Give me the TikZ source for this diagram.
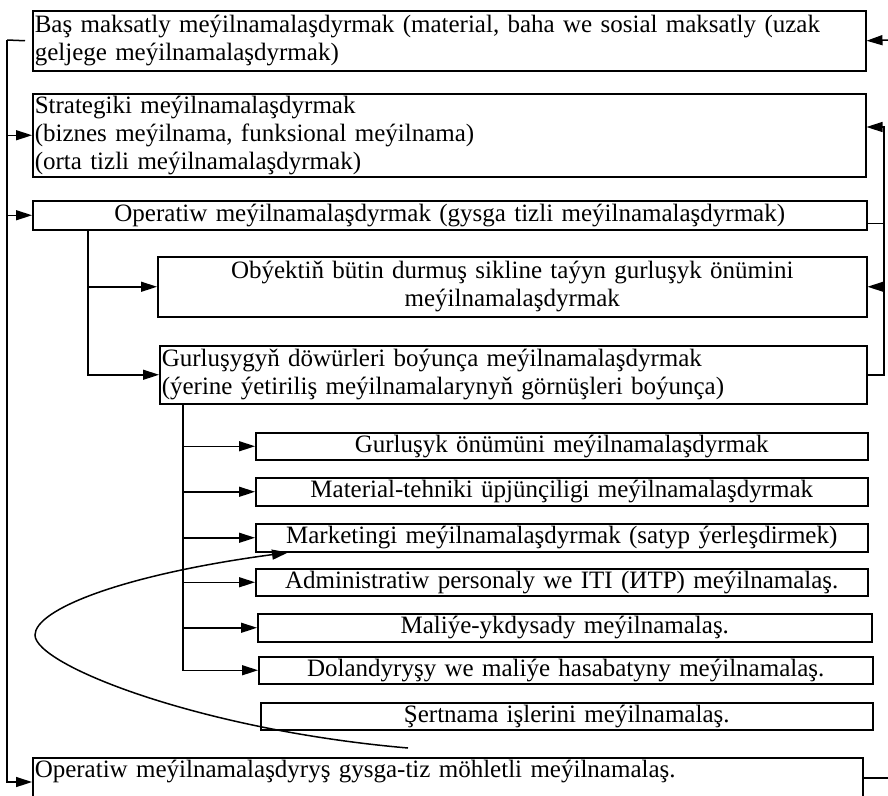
\documentclass[tikz,border=0pt]{standalone}
\usepackage{fontspec}
\setmainfont{Liberation Serif}
\usetikzlibrary{arrows.meta}

\begin{document}
\begin{tikzpicture}[x=1pt, y=1pt,
    box/.style={draw, line width=1.5pt, anchor=north west, inner sep=2pt, font=\fontsize{25}{28}\selectfont},
    link/.style={line width=1.5pt},
    arr/.style={line width=1.5pt, -{Triangle[length=16pt,width=10pt]}}
]
    \useasboundingbox (0,0) rectangle (888,-795);

    % Upper levels of planning
    \node[box, text width=829pt, align=left, minimum height=60pt] (goal) at (32,-10)
        {Baş maksatly meýilnamalaşdyrmak (material, baha we sosial maksatly (uzak\\geljege meýilnamalaşdyrmak)};
    \node[box, text width=829pt, align=left, minimum height=83pt] (strat) at (32,-93)
        {Strategiki meýilnamalaşdyrmak\\(biznes meýilnama, funksional meýilnama)\\(orta tizli meýilnamalaşdyrmak)};
    \node[box, text width=830pt, align=center, minimum height=29pt] (oper) at (32,-200)
        {Operatiw meýilnamalaşdyrmak (gysga tizli meýilnamalaşdyrmak)};

    % Operative planning branches
    \node[box, text width=705pt, align=center, minimum height=60pt] (whole) at (157,-256)
        {Obýektiň bütin durmuş sikline taýyn gurluşyk önümini\\meýilnamalaşdyrmak};
    \node[box, text width=703pt, align=left, minimum height=58pt] (stage) at (159,-345)
        {Gurluşygyň döwürleri boýunça meýilnamalaşdyrmak\\(ýerine ýetiriliş meýilnamalarynyň görnüşleri boýunça)};

    % Kinds of execution plans
    \node[box, text width=608pt, align=center, minimum height=27pt] (product) at (255,-432)
        {Gurluşyk önümüni meýilnamalaşdyrmak};
    \node[box, text width=608pt, align=center, minimum height=28pt] (supply) at (255,-477)
        {Material-tehniki üpjünçiligi meýilnamalaşdyrmak};
    \node[box, text width=608pt, align=center, minimum height=28pt] (market) at (255,-523)
        {Marketingi meýilnamalaşdyrmak (satyp ýerleşdirmek)};
    \node[box, text width=608pt, align=center, minimum height=27pt] (staff) at (255,-568)
        {Administratiw personaly we ITI (ИТР) meýilnamalaş.};
    \node[box, text width=610pt, align=center, minimum height=28pt] (finance) at (257,-613)
        {Maliýe-ykdysady meýilnamalaş.};
    \node[box, text width=610pt, align=center, minimum height=27pt] (report) at (258,-656)
        {Dolandyryşy we maliýe hasabatyny meýilnamalaş.};
    \node[box, text width=608pt, align=center, minimum height=27pt] (contract) at (260,-702)
        {Şertnama işlerini meýilnamalaş.};

    % Short-term planning
    \node[box, text width=826pt, align=left, text depth=34pt] (short) at (32,-757)
        {Operatiw meýilnamalaşdyryş gysga-tiz möhletli meýilnamalaş.};

    % Left feedback line
    \coordinate (lt) at (7,-40);
    \draw[link] ([xshift=-7pt]goal.west) -- (lt);
    \draw[arr] (lt) |- ([yshift=-25pt]short.north west);
    \draw[arr] (lt |- strat.west) -- (strat.west);
    \draw[arr] (lt |- oper.west) -- (oper.west);

    % Right feedback lines
    \coordinate (rin) at (888,-40);
    \draw[arr] (rin) -- (goal.east);
    \coordinate (rt) at (884,-127);
    \draw[arr] (stage.east) -| (rt) -- (rt -| strat.east);
    \draw[link] ([yshift=-8pt]oper.east) -- ([yshift=-8pt]oper.east -| rt);
    \draw[arr] (rt |- whole.east) -- (whole.east);
    \coordinate (rout) at (888,-778);
    \draw[link] (rout -| short.east) -- (rout);

    % Tree from operative planning
    \coordinate (ta) at ([xshift=56pt]oper.south west);
    \draw[arr] (ta) |- (stage.west);
    \draw[arr] (ta) |- (whole.west);

    % Tree from stage planning
    \coordinate (tb) at ([xshift=24pt]stage.south west);
    \draw[arr] (tb) |- (report.west);
    \foreach \n in {product, supply, market, staff, finance}
        \draw[arr] (tb |- \n.west) -- (\n.west);

    % Loop from contracts up to marketing
    \coordinate (cs) at (408,-748);
    \draw[arr] (cs) .. controls (200,-730) and (35,-665) .. (35,-635)
        .. controls (35,-610) and (120,-575) .. ([xshift=33pt]market.south west);
\end{tikzpicture}
\end{document}
